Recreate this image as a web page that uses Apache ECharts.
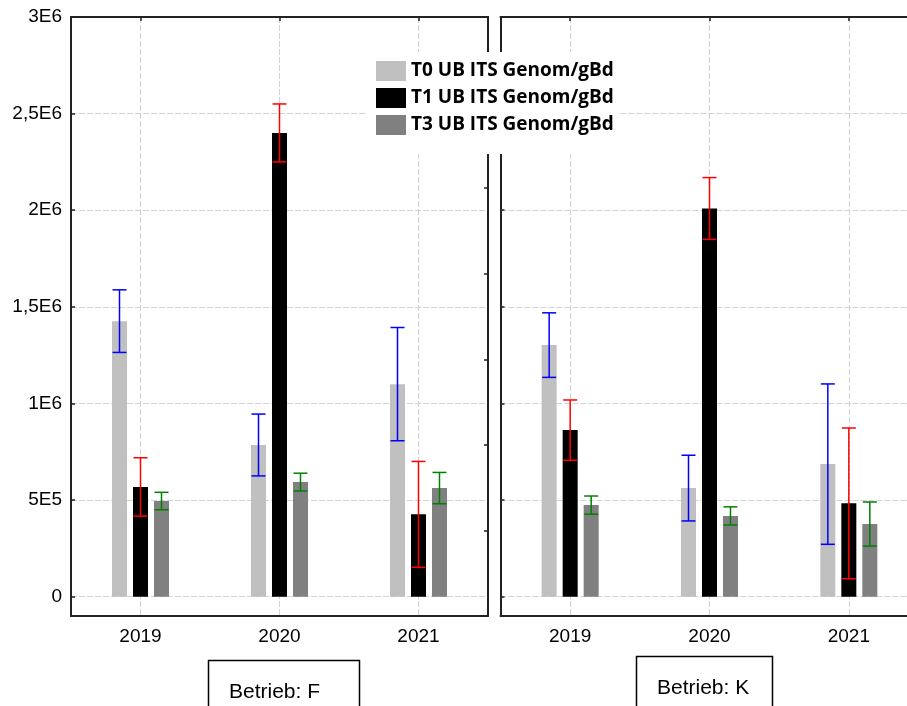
<!DOCTYPE html>
<html>
<head>
<meta charset="utf-8">
<script src="https://cdn.jsdelivr.net/npm/echarts@6/dist/echarts.min.js"></script>
<style>
  html, body { margin: 0; padding: 0; background: #fff; }
  #chart { width: 907px; height: 706px; }
</style>
</head>
<body>
<div id="chart"></div>
<script>
// Years on the category axis
const years = ['2019', '2020', '2021'];
const seriesNames = ['T0 UB ITS Genom/gBd', 'T1 UB ITS Genom/gBd', 'T3 UB ITS Genom/gBd'];
const yTickValues = [0, 500000, 1000000, 1500000, 2000000, 2500000, 3000000];
const yTickLabels = ['0', '5E5', '1E6', '1,5E6', '2E6', '2,5E6', '3E6'];

// Betrieb F: means and error half-widths
const fT0 = [1426000, 785000, 1100000];
const fT0Err = [162000, 160000, 293000];
const fT1 = [568000, 2400000, 426000];
const fT1Err = [151000, 150000, 274000];
const fT3 = [495000, 593000, 562000];
const fT3Err = [45000, 46000, 81000];

// Betrieb K: means and error half-widths
const kT0 = [1302000, 562000, 686000];
const kT0Err = [167000, 170000, 415000];
const kT1 = [862000, 2009000, 483000];
const kT1Err = [156000, 160000, 390000];
const kT3 = [474000, 418000, 376000];
const kT3Err = [47000, 47000, 114000];

const barColors = ['#c0c0c0', '#000000', '#808080'];
const errColors = ['#0000ff', '#ff0000', '#008000'];
const barOffsets = [-21, 0, 21];

const font = '"Liberation Sans", Arial, sans-serif';
const frameLine = { show: true, onZero: false, lineStyle: { color: '#222', width: 2 } };
const gridLine = { show: true, lineStyle: { color: '#d2d2d2', type: [6, 2], width: 1 } };

function errorSeries(gridIdx, k, means, errs) {
  return {
    type: 'custom',
    name: seriesNames[k] + ' err',
    xAxisIndex: gridIdx * 2,
    yAxisIndex: gridIdx * 2,
    z: 5,
    silent: true,
    encode: { x: 0, y: [1, 2] },
    data: means.map((m, i) => [i, m - errs[i], m + errs[i]]),
    renderItem: function (params, api) {
      const lo = api.coord([api.value(0), api.value(1)]);
      const hi = api.coord([api.value(0), api.value(2)]);
      const x = lo[0] + barOffsets[k];
      const hw = 7;
      const style = { stroke: errColors[k], lineWidth: 1.5 };
      return {
        type: 'group',
        children: [
          { type: 'line', shape: { x1: x, y1: lo[1], x2: x, y2: hi[1] }, style: style },
          { type: 'line', shape: { x1: x - hw, y1: hi[1], x2: x + hw, y2: hi[1] }, style: style },
          { type: 'line', shape: { x1: x - hw, y1: lo[1], x2: x + hw, y2: lo[1] }, style: style }
        ]
      };
    }
  };
}

function barSeries(gridIdx, k, values) {
  return {
    type: 'bar',
    name: seriesNames[k],
    xAxisIndex: gridIdx * 2,
    yAxisIndex: gridIdx * 2,
    barWidth: 15,
    barGap: '40%',
    itemStyle: { color: barColors[k] },
    data: values
  };
}

function catAxis(gridIdx) {
  return {
    type: 'category',
    gridIndex: gridIdx,
    position: 'bottom',
    data: years,
    axisLine: frameLine,
    axisTick: { show: false },
    splitLine: { show: false },
    axisLabel: { color: '#000', fontFamily: font, fontSize: 19, margin: 11 }
  };
}

function topAxis(gridIdx) {
  return {
    type: 'value',
    gridIndex: gridIdx,
    position: 'top',
    min: 0,
    max: 3,
    axisLine: frameLine,
    axisTick: { show: true, inside: true, length: 4, customValues: [0.5, 1.5, 2.5], lineStyle: { color: '#222', width: 1.5 } },
    axisLabel: { show: false },
    splitLine: gridLine
  };
}

function valueAxis(gridIdx, showLabels) {
  return {
    type: 'value',
    gridIndex: gridIdx,
    position: 'left',
    min: -100000,
    max: 3000000,
    axisLine: frameLine,
    axisTick: { show: true, inside: true, length: 4, customValues: yTickValues, lineStyle: { color: '#222', width: 1.5 } },
    axisLabel: {
      show: showLabels,
      customValues: yTickValues,
      color: '#000',
      fontFamily: font,
      fontSize: 19,
      margin: 9,
      formatter: function (v) {
        const i = yTickValues.indexOf(v);
        return i >= 0 ? yTickLabels[i] : '';
      }
    },
    splitLine: gridLine
  };
}

function rightAxis(gridIdx) {
  return {
    type: 'value',
    gridIndex: gridIdx,
    position: 'right',
    min: 0,
    max: 7,
    interval: 1,
    axisLine: frameLine,
    axisTick: { show: true, inside: true, length: 4, lineStyle: { color: '#222', width: 1.5 } },
    axisLabel: { show: false },
    splitLine: { show: false }
  };
}

const chart = echarts.init(document.getElementById('chart'), null, { renderer: 'canvas' });

chart.setOption({
  animation: false,
  backgroundColor: '#fff',
  grid: [
    { left: 71, top: 17, width: 417, height: 599, outerBoundsMode: 'none', containLabel: false },
    { left: 500.5, top: 17, width: 418, height: 599, outerBoundsMode: 'none', containLabel: false }
  ],
  xAxis: [catAxis(0), topAxis(0), catAxis(1), topAxis(1)],
  yAxis: [valueAxis(0, true), rightAxis(0), valueAxis(1, false), rightAxis(1)],
  legend: {
    data: seriesNames,
    orient: 'vertical',
    left: 367,
    top: 52,
    padding: [9, 4, 19, 9],
    icon: 'rect',
    itemWidth: 30,
    itemHeight: 20,
    itemGap: 7,
    backgroundColor: '#fff',
    selectedMode: false,
    textStyle: { fontFamily: '"Open Sans", sans-serif', fontWeight: 'bold', fontSize: 19, color: '#000', lineHeight: 20 }
  },
  series: [
    barSeries(0, 0, fT0), barSeries(0, 1, fT1), barSeries(0, 2, fT3),
    errorSeries(0, 0, fT0, fT0Err), errorSeries(0, 1, fT1, fT1Err), errorSeries(0, 2, fT3, fT3Err),
    barSeries(1, 0, kT0), barSeries(1, 1, kT1), barSeries(1, 2, kT3),
    errorSeries(1, 0, kT0, kT0Err), errorSeries(1, 1, kT1, kT1Err), errorSeries(1, 2, kT3, kT3Err)
  ],
  graphic: [
    { type: 'rect', shape: { x: 208.5, y: 660.5, width: 151, height: 60 }, style: { fill: '#fff', stroke: '#000', lineWidth: 1.5 } },
    { type: 'text', style: { x: 229, y: 692, text: 'Betrieb: F', font: '21px "Liberation Sans", Arial, sans-serif', fill: '#000', verticalAlign: 'middle' } },
    { type: 'rect', shape: { x: 636.5, y: 656.5, width: 136, height: 60 }, style: { fill: '#fff', stroke: '#000', lineWidth: 1.5 } },
    { type: 'text', style: { x: 657, y: 688, text: 'Betrieb: K', font: '21px "Liberation Sans", Arial, sans-serif', fill: '#000', verticalAlign: 'middle' } }
  ]
});
</script>
</body>
</html>
